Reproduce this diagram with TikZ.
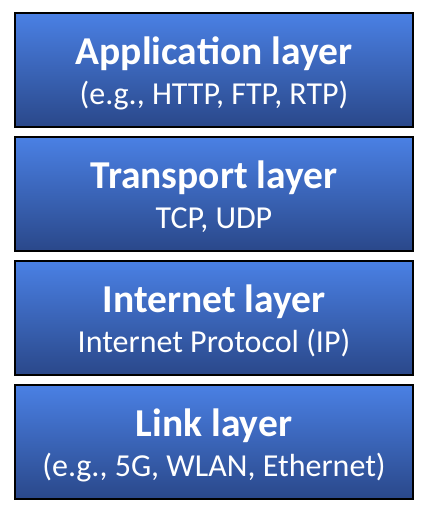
\documentclass[tikz,border=0pt]{standalone}
\usepackage{fontspec}
\setmainfont{Carlito}
\usetikzlibrary{positioning,calc}
\definecolor{LayerTop}{RGB}{74,128,228}
\definecolor{LayerBottom}{RGB}{42,72,138}
\tikzset{
  layer/.style={draw=black,line width=1.6pt,top color=LayerTop,bottom color=LayerBottom,
    minimum width=398pt,minimum height=114pt,inner sep=0pt},
  title/.style={text=white,font=\fontsize{39.5}{44}\selectfont\bfseries,anchor=base,inner sep=0pt},
  sub/.style={text=white,font=\fontsize{32}{36}\selectfont,anchor=base,inner sep=0pt},
}

\begin{document}
\begin{tikzpicture}[x=1pt,y=1pt]
\useasboundingbox (0,0) rectangle (425,-515);
\node[layer] (app) at (214,-70) {};
\node[layer] (trans) at (214,-194) {};
\node[layer] (inet) at (214,-318) {};
\node[layer] (link) at (214,-442) {};
\node[title] (appT) at ($(app.north)+(0,-52)$) {Application layer};
\node[sub] (appS) at ($(app.north)+(0,-92)$) {(e.g., HTTP, FTP, RTP)};
\node[title] (transT) at ($(trans.north)+(0,-52)$) {Transport layer};
\node[sub] (transS) at ($(trans.north)+(0,-92)$) {TCP, UDP};
\node[title] (inetT) at ($(inet.north)+(0,-52)$) {Internet layer};
\node[sub] (inetS) at ($(inet.north)+(0,-92)$) {Internet Protocol (IP)};
\node[title] (linkT) at ($(link.north)+(0,-52)$) {Link layer};
\node[sub] (linkS) at ($(link.north)+(0,-92)$) {(e.g., 5G, WLAN, Ethernet)};
\end{tikzpicture}
\end{document}
